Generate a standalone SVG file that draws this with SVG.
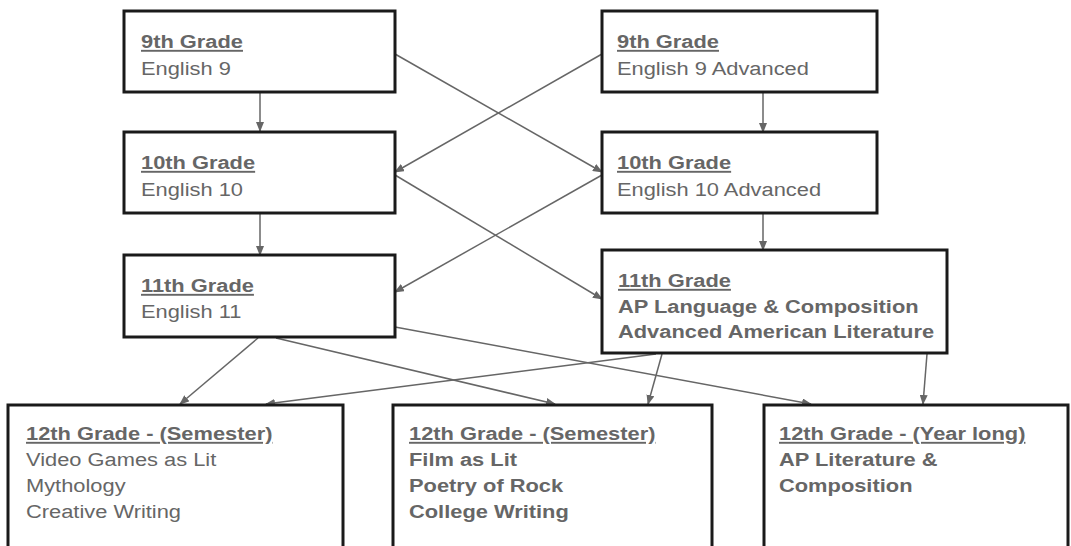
<svg xmlns="http://www.w3.org/2000/svg" width="1071" height="546" viewBox="0 0 1071 546">
<defs>
<marker id="ah" markerUnits="userSpaceOnUse" markerWidth="10" markerHeight="8" refX="9" refY="4" orient="auto">
<path d="M0,0 L10,4 L0,8 Z" fill="#666"/>
</marker>
<style>
.box{fill:#fff;stroke:#1a1a1a;stroke-width:3}
.t{font-family:"Liberation Sans",Arial,sans-serif;font-size:19px;fill:#666}
.h{font-weight:bold;text-decoration:underline}
.b{font-weight:bold}
.c{stroke:#666;stroke-width:1.5;fill:none;marker-end:url(#ah)}
</style>
</defs>
<rect width="1071" height="546" fill="#fff"/>
<g id="connectors">
<line class="c" x1="260" y1="92" x2="260" y2="131"/>
<line class="c" x1="763" y1="92" x2="763" y2="132"/>
<line class="c" x1="395" y1="54" x2="602" y2="172"/>
<line class="c" x1="602" y1="54" x2="395" y2="172"/>
<line class="c" x1="260" y1="213" x2="260" y2="255"/>
<line class="c" x1="763" y1="213" x2="763" y2="250"/>
<line class="c" x1="395" y1="175" x2="602" y2="299"/>
<line class="c" x1="602" y1="175" x2="395" y2="292"/>
<line class="c" x1="258" y1="338" x2="180" y2="404"/>
<line class="c" x1="276" y1="338" x2="555" y2="404"/>
<line class="c" x1="395" y1="327" x2="811" y2="404"/>
<line class="c" x1="656" y1="354" x2="266" y2="404"/>
<line class="c" x1="662" y1="354" x2="648" y2="404"/>
<line class="c" x1="927" y1="354" x2="923" y2="404"/>
</g>
<g id="n9">
<rect class="box" x="124" y="11" width="271" height="81"/>
<g transform="translate(141 0) scale(1.15 1)">
<text class="t h" x="0" y="48">9th Grade</text>
<text class="t" x="0" y="75">English 9</text>
</g>
</g>
<g id="n9a">
<rect class="box" x="602" y="11" width="275" height="81"/>
<g transform="translate(617 0) scale(1.15 1)">
<text class="t h" x="0" y="48">9th Grade</text>
<text class="t" x="0" y="75">English 9 Advanced</text>
</g>
</g>
<g id="n10">
<rect class="box" x="124" y="132" width="271" height="81"/>
<g transform="translate(141 0) scale(1.15 1)">
<text class="t h" x="0" y="169">10th Grade</text>
<text class="t" x="0" y="196">English 10</text>
</g>
</g>
<g id="n10a">
<rect class="box" x="602" y="132" width="275" height="81"/>
<g transform="translate(617 0) scale(1.15 1)">
<text class="t h" x="0" y="169">10th Grade</text>
<text class="t" x="0" y="196">English 10 Advanced</text>
</g>
</g>
<g id="n11">
<rect class="box" x="124" y="255" width="271" height="82"/>
<g transform="translate(141 0) scale(1.15 1)">
<text class="t h" x="0" y="292">11th Grade</text>
<text class="t" x="0" y="318">English 11</text>
</g>
</g>
<g id="n11a">
<rect class="box" x="602" y="250" width="345" height="103"/>
<g transform="translate(618 0) scale(1.15 1)">
<text class="t h" x="0" y="287">11th Grade</text>
<text class="t b" x="0" y="313">AP Language &amp; Composition</text>
<text class="t b" x="0" y="338">Advanced American Literature</text>
</g>
</g>
<g id="n12a">
<rect class="box" x="8" y="405" width="335" height="160"/>
<g transform="translate(26 0) scale(1.15 1)">
<text class="t h" x="0" y="440">12th Grade - (Semester)</text>
<text class="t" x="0" y="466">Video Games as Lit</text>
<text class="t" x="0" y="492">Mythology</text>
<text class="t" x="0" y="518">Creative Writing</text>
</g>
</g>
<g id="n12b">
<rect class="box" x="393" y="405" width="319" height="160"/>
<g transform="translate(409 0) scale(1.15 1)">
<text class="t h" x="0" y="440">12th Grade - (Semester)</text>
<text class="t b" x="0" y="466">Film as Lit</text>
<text class="t b" x="0" y="492">Poetry of Rock</text>
<text class="t b" x="0" y="518">College Writing</text>
</g>
</g>
<g id="n12c">
<rect class="box" x="764" y="405" width="304" height="160"/>
<g transform="translate(779 0) scale(1.15 1)">
<text class="t h" x="0" y="440">12th Grade - (Year long)</text>
<text class="t b" x="0" y="466">AP Literature &amp;</text>
<text class="t b" x="0" y="492">Composition</text>
</g>
</g>
</svg>
